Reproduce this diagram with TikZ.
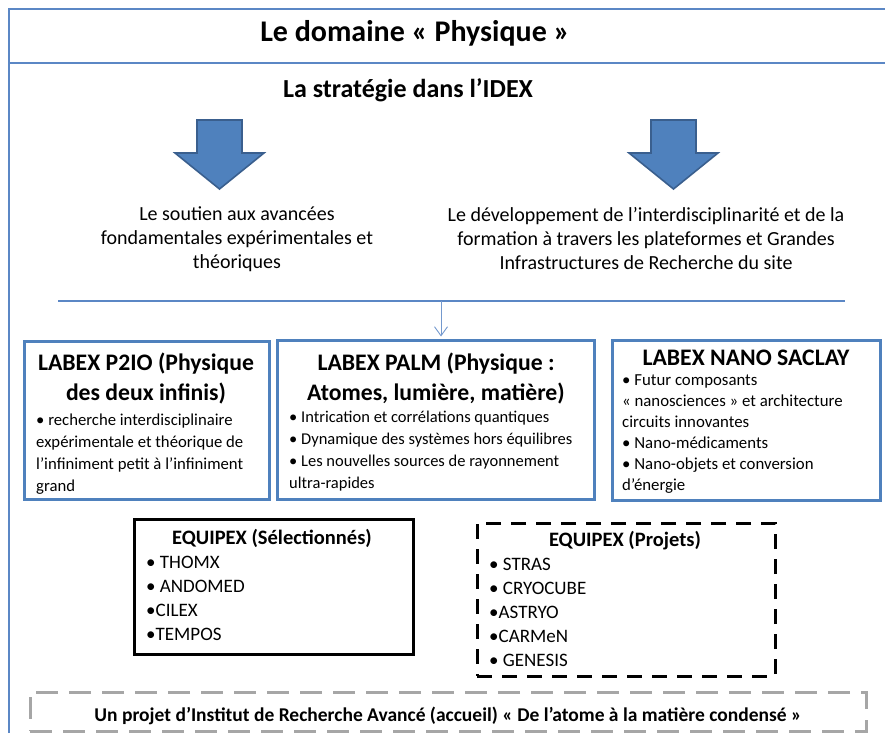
\documentclass[tikz,border=0pt]{standalone}
\usepackage{fontspec}
\setmainfont{Carlito}
\usetikzlibrary{arrows.meta}
\definecolor{frameblue}{HTML}{5B87C5}
\definecolor{boxblue}{HTML}{4F81BD}
\definecolor{arrowfill}{HTML}{4F81BD}
\definecolor{arrowline}{HTML}{3A5F8E}
\definecolor{dashgray}{HTML}{A6A6A6}
\tikzset{
  frameline/.style={draw=frameblue, line width=2.5pt},
  rule/.style={draw=frameblue, line width=2pt},
  thinarrow/.style={draw=frameblue!85, line width=0.9pt, -{Straight Barb[length=9pt,width=13pt]}, shorten >=2pt},
  bigarrow/.style={fill=arrowfill, draw=arrowline, line width=1.6pt, line join=miter},
  labbox/.style={draw=boxblue, line width=3pt, rectangle, inner sep=0pt},
  eqbox/.style={draw=black, line width=3pt, rectangle, inner sep=0pt},
  eqdash/.style={eqbox, dash pattern=on 15pt off 10pt},
  graybox/.style={draw=dashgray, line width=3pt, rectangle, inner sep=0pt, dash pattern=on 22pt off 11pt},
  titletxt/.style={font=\fontsize{30}{34}\selectfont\bfseries, inner sep=0pt},
  subtxt/.style={font=\fontsize{26}{30}\selectfont\bfseries, inner sep=0pt},
  bodytxt/.style={font=\fontsize{20}{24}\selectfont, align=center, inner sep=0pt},
  labtitle/.style={font=\fontsize{23.7}{30}\selectfont\bfseries, align=center, inner sep=0pt},
  bultxt/.style={font=\fontsize{16.7}{22}\selectfont, align=left, anchor=west, inner sep=0pt},
  bulsmall/.style={font=\fontsize{16.5}{22}\selectfont, align=left, anchor=west, inner sep=0pt},
  bulnano/.style={font=\fontsize{16.8}{21}\selectfont, align=left, anchor=west, inner sep=0pt},
  eqtitle/.style={font=\fontsize{20.5}{24}\selectfont\bfseries, inner sep=0pt},
  eqitems/.style={font=\fontsize{19}{24}\selectfont, align=left, anchor=west, inner sep=0pt},
  bottomtxt/.style={font=\fontsize{19.5}{22}\selectfont\bfseries, inner sep=0pt}
}
\begin{document}
\begin{tikzpicture}[x=1pt,y=-1pt]
\useasboundingbox (0,0) rectangle (885,733);
% outer frame
\draw[frameline] (9,733) -- (9,9) -- (885,9);
\draw[frameline] (9,63) -- (885,63);
\node[titletxt] (title) at (415,33) {Le domaine « Physique »};
\node[subtxt] (sub) at (408,90) {La stratégie dans l’IDEX};
% block arrows
\draw[bigarrow] (197,120) -- (242,120) -- (242,153) -- (264,153) -- (219.5,189) -- (175,153) -- (197,153) -- cycle;
\draw[bigarrow] (651,120) -- (696,120) -- (696,153) -- (718,153) -- (673.5,189) -- (629,153) -- (651,153) -- cycle;
% texts
\node[bodytxt] (left) at (237,239) {Le soutien aux avancées\\fondamentales expérimentales et\\théoriques};
\node[bodytxt] (right) at (646,239) {Le développement de l’interdisciplinarité et de la\\formation à travers les plateformes et Grandes\\Infrastructures de Recherche du site};
% rule
\coordinate (ruleL) at (58,301);
\coordinate (ruleR) at (845,301);
\coordinate (hl) at (441,301);
\draw[rule] (ruleL) -- (ruleR);
% LABEX boxes
\node[labbox, minimum width=245pt, minimum height=158pt] (p2io) at (146.5,420) {};
\node[labbox, minimum width=317pt, minimum height=159pt] (palm) at (435.5,419.5) {};
\node[labbox, minimum width=268pt, minimum height=160pt] (nano) at (746,420) {};
\draw[thinarrow] (hl) -- (palm.north -| hl);
\node[labtitle] (p2iot) at (146,378) {LABEX P2IO (Physique\\des deux infinis)};
\node[bultxt] (p2iob) at (36,454) {• recherche interdisciplinaire\\expérimentale et théorique de\\l’infiniment petit à l’infiniment\\grand};
\node[labtitle] (palmt) at (436,378) {LABEX PALM (Physique :\\Atomes, lumière, matière)};
\node[bulsmall] (palmb) at (289,451) {• Intrication et corrélations quantiques\\• Dynamique des systèmes hors équilibres\\• Les nouvelles sources de rayonnement\\ultra-rapides};
\node[labtitle] (nanot) at (746,358) {LABEX NANO SACLAY};
\node[bulnano] (nanob) at (622,434.5) {• Futur composants\\« nanosciences » et architecture\\circuits innovantes\\• Nano-médicaments\\• Nano-objets et conversion\\d’énergie};
% EQUIPEX
\node[eqbox, minimum width=279pt, minimum height=135pt] (sel) at (273.5,586.5) {};
\node[eqtitle] (selt) at (272,538) {EQUIPEX (Sélectionnés)};
\node[eqitems] (seli) at (146,598) {• THOMX\\• ANDOMED\\•CILEX\\•TEMPOS};
\node[eqdash, minimum width=298pt, minimum height=153pt] (proj) at (626,599.5) {};
\node[eqtitle] (projt) at (625,541) {EQUIPEX (Projets)};
\node[eqitems] (proji) at (489,612) {• STRAS\\• CRYOCUBE\\•ASTRYO\\•CARMeN\\• GENESIS};
% bottom
\node[graybox, minimum width=836pt, minimum height=39pt] (ira) at (448,711.5) {};
\node[bottomtxt] (irat) at (448,716) {Un projet d’Institut de Recherche Avancé (accueil) « De l’atome à la matière condensé »};
\end{tikzpicture}
\end{document}
